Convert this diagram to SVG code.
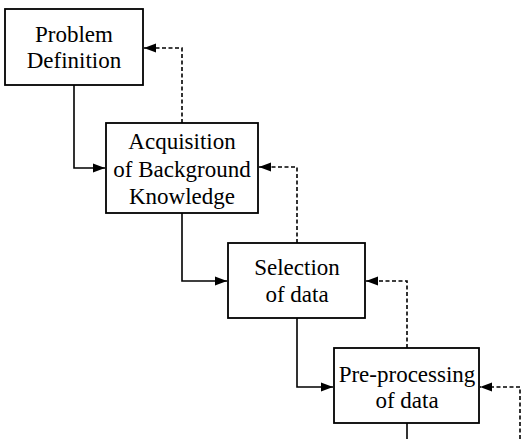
<svg xmlns="http://www.w3.org/2000/svg" width="521" height="439" viewBox="0 0 521 439">
<defs>
<style>
.box{fill:#fff;stroke:#000;stroke-width:1.8}
.t{font-family:"Liberation Serif","Times New Roman",serif;font-size:23px;fill:#000;text-anchor:middle}
.solid{fill:none;stroke:#000;stroke-width:1.6}
.dash{fill:none;stroke:#000;stroke-width:1.6;stroke-dasharray:4 2.5}
</style>
<marker id="ah" markerUnits="userSpaceOnUse" markerWidth="13" markerHeight="11" refX="12" refY="5.5" orient="auto">
<path d="M0,1 L12,5.5 L0,10 z" fill="#000"/>
</marker>
</defs>
<rect width="521" height="439" fill="#fff"/>
<g id="connectors">
<path class="solid" d="M74,85 V168 H105" marker-end="url(#ah)"/>
<path class="dash" d="M182,123 V48 H144" marker-end="url(#ah)"/>
<path class="solid" d="M182,213 V281 H227" marker-end="url(#ah)"/>
<path class="dash" d="M297,243 V167 H259" marker-end="url(#ah)"/>
<path class="solid" d="M297,318 V387 H333" marker-end="url(#ah)"/>
<path class="dash" d="M407,348 V281 H366" marker-end="url(#ah)"/>
<path class="solid" d="M407,423 V439"/>
<path class="dash" d="M520,439 V387 H480" marker-end="url(#ah)"/>
</g>
<g id="problem-definition">
<rect class="box" x="5" y="9" width="138" height="76"/>
<text class="t" x="74" y="42">Problem</text>
<text class="t" x="74" y="68">Definition</text>
</g>
<g id="acquisition">
<rect class="box" x="106" y="123" width="152" height="90"/>
<text class="t" x="182" y="149">Acquisition</text>
<text class="t" x="182" y="177">of Background</text>
<text class="t" x="182" y="204">Knowledge</text>
</g>
<g id="selection">
<rect class="box" x="228" y="243" width="137" height="75"/>
<text class="t" x="297" y="275">Selection</text>
<text class="t" x="297" y="302">of data</text>
</g>
<g id="preprocessing">
<rect class="box" x="334" y="348" width="145" height="75"/>
<text class="t" x="407" y="382">Pre-processing</text>
<text class="t" x="407" y="408">of data</text>
</g>
</svg>
